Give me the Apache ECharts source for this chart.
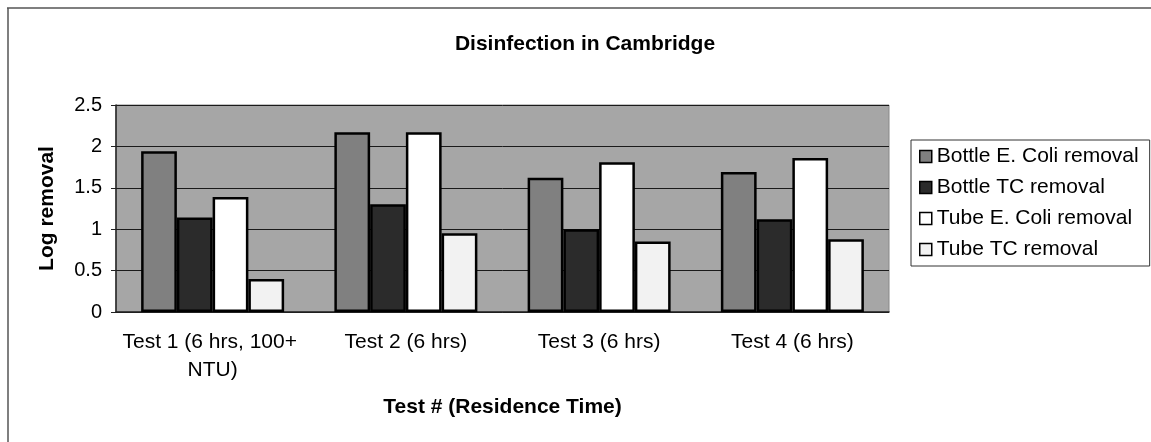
<!DOCTYPE html>
<html>
<head>
<meta charset="utf-8">
<script src="https://cdn.jsdelivr.net/npm/echarts@6/dist/echarts.min.js"></script>
<style>
  html, body { margin: 0; padding: 0; background: #fff; }
  #chart { width: 1151px; height: 442px; }
</style>
</head>
<body>
<div id="chart"></div>
<script>
// chart data
var categories = ['Test 1 (6 hrs, 100+ NTU)', 'Test 2 (6 hrs)', 'Test 3 (6 hrs)', 'Test 4 (6 hrs)'];
var bottleEColi = [1.94, 2.17, 1.62, 1.69];
var bottleTC = [1.14, 1.30, 1.00, 1.12];
var tubeEColi = [1.39, 2.17, 1.81, 1.86];
var tubeTC = [0.40, 0.95, 0.85, 0.88];
var seriesNames = ['Bottle E. Coli removal', 'Bottle TC removal', 'Tube E. Coli removal', 'Tube TC removal'];
var yTicks = [0, 0.5, 1, 1.5, 2, 2.5];

var font = 'Liberation Sans, Arial, sans-serif';
var colors = ['#808080', '#2b2b2b', '#ffffff', '#f2f2f2'];
var values = [bottleEColi, bottleTC, tubeEColi, tubeTC];

var myChart = echarts.init(document.getElementById('chart'));

var series = [];
for (var i = 0; i < values.length; i++) {
  series.push({
    name: seriesNames[i],
    type: 'bar',
    data: values[i],
    barGap: '0%',
    barCategoryGap: '26%',
    itemStyle: { color: colors[i], borderColor: '#000', borderWidth: 2.5 }
  });
}

var options = {
  animation: false,
  title: {
    text: 'Disinfection in Cambridge',
    left: 580,
    top: 29,
    textAlign: 'center',
    textStyle: { fontFamily: font, fontSize: 21, fontWeight: 'bold', color: '#000' }
  },
  graphic: [
    { type: 'line', shape: { x1: 7, y1: 8, x2: 1151, y2: 8 }, style: { stroke: '#555', lineWidth: 1.5 } },
    { type: 'line', shape: { x1: 8, y1: 8, x2: 8, y2: 442 }, style: { stroke: '#555', lineWidth: 1.5 } }
  ],
  legend: {
    orient: 'vertical',
    left: 911,
    top: 140,
    padding: [6, 11, 6, 8],
    borderColor: '#333',
    borderWidth: 1,
    itemWidth: 12,
    itemHeight: 12,
    itemGap: 10,
    icon: 'rect',
    itemStyle: { borderColor: '#000', borderWidth: 1.5 },
    textStyle: { fontFamily: font, fontSize: 21, lineHeight: 21, color: '#000' },
    data: seriesNames
  },
  grid: {
    left: 116,
    right: 262,
    top: 105,
    bottom: 130,
    show: true,
    backgroundColor: '#a6a6a6',
    borderColor: '#888',
    borderWidth: 1
  },
  xAxis: {
    type: 'category',
    data: categories,
    name: 'Test # (Residence Time)',
    nameLocation: 'middle',
    nameGap: 85,
    nameTextStyle: { fontFamily: font, fontSize: 21, fontWeight: 'bold', color: '#000' },
    axisLine: { lineStyle: { color: '#222', width: 1.5 } },
    axisTick: { length: 5, lineStyle: { color: '#222' } },
    axisLabel: {
      fontFamily: font, fontSize: 21, color: '#000', margin: 16,
      lineHeight: 28, width: 190, overflow: 'break', interval: 0
    }
  },
  yAxis: {
    type: 'value',
    min: 0,
    max: 2.5,
    interval: 0.5,
    name: 'Log removal',
    nameLocation: 'middle',
    nameGap: 58,
    nameTextStyle: { fontFamily: font, fontSize: 21, fontWeight: 'bold', color: '#000' },
    axisLine: { show: true, lineStyle: { color: '#222', width: 1.5 } },
    axisTick: { show: true, length: 5, lineStyle: { color: '#222' } },
    axisLabel: {
      fontFamily: font, fontSize: 20, color: '#000', margin: 14,
      formatter: function (v) { return yTicks.indexOf(v) >= 0 ? String(v) : ''; }
    },
    splitLine: { show: true, lineStyle: { color: '#1a1a1a', width: 1 } }
  },
  series: series
};

myChart.setOption(options);
</script>
</body>
</html>
